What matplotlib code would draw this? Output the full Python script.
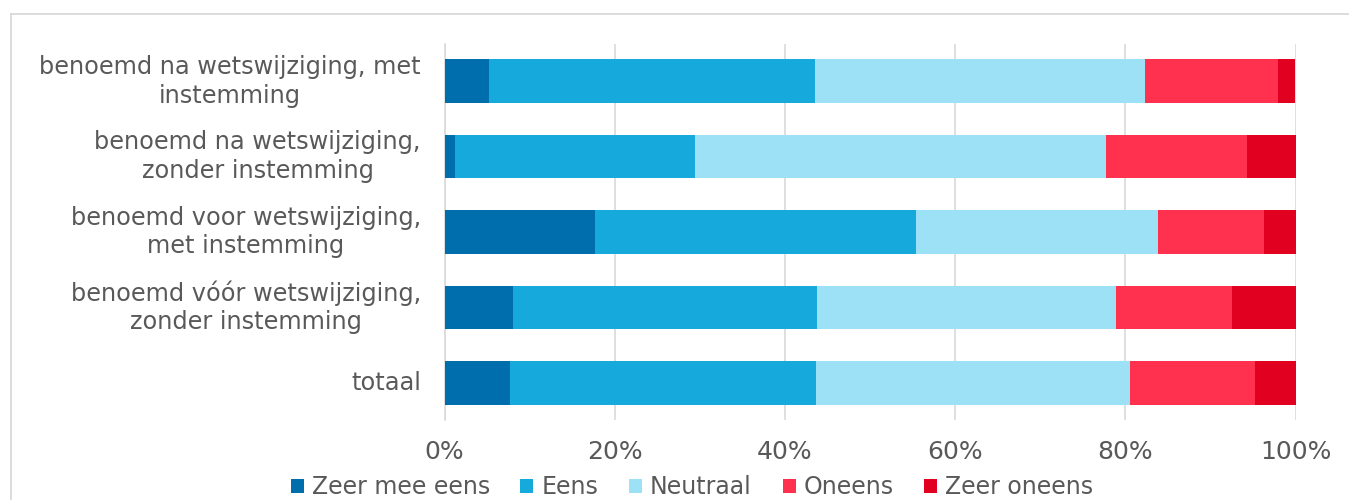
import matplotlib
matplotlib.use("Agg")
import matplotlib.pyplot as plt
import matplotlib.lines as mlines
import numpy as np

# Data (percentages)
categories = [
    "benoemd na wetswijziging, met\ninstemming",
    "benoemd na wetswijziging,\nzonder instemming",
    "benoemd voor wetswijziging,\nmet instemming",
    "benoemd vóór wetswijziging,\nzonder instemming",
    "totaal",
]
series_names = ["Zeer mee eens", "Eens", "Neutraal", "Oneens", "Zeer oneens"]
zeer_mee_eens = [5.2, 1.2, 17.7, 8.0, 7.7]
eens = [38.3, 28.2, 37.7, 35.8, 36.0]
neutraal = [38.8, 48.3, 28.5, 35.1, 36.9]
oneens = [15.6, 16.6, 12.4, 13.6, 14.6]
zeer_oneens = [2.1, 5.7, 3.7, 7.5, 4.8]
tick_values = [0, 20, 40, 60, 80, 100]

colors = ["#006EAC", "#15AADB", "#9DE1F6", "#FF314E", "#E1001F"]
text_color = "#595959"
grid_color = "#D9D9D9"

W, H = 1349, 500
fig = plt.figure(figsize=(W / 100, H / 100), dpi=100)
fig.patch.set_facecolor("white")

# outer chart border, only left and top edges are visible (cropped image)
bx, by = 11 / W, 1 - 13.5 / H
fig.add_artist(mlines.Line2D([bx, bx], [-0.1, by], transform=fig.transFigure,
                             color=grid_color, lw=1.3))
fig.add_artist(mlines.Line2D([bx, 1.1], [by, by], transform=fig.transFigure,
                             color=grid_color, lw=1.3))

ax = fig.add_axes([444.5 / W, 1 - 420.4 / H, 851 / W, (420.4 - 43.6) / H])

y = np.arange(len(categories))
left = np.zeros(len(categories))
all_series = [zeer_mee_eens, eens, neutraal, oneens, zeer_oneens]
for name, vals, col in zip(series_names, all_series, colors):
    vals = np.array(vals)
    ax.barh(y, vals, left=left, height=0.58, color=col, label=name, zorder=3)
    left += vals

ax.set_xlim(0, 100)
ax.set_ylim(len(categories) - 0.5, -0.5)

ax.set_xticks(tick_values)
ax.set_xticklabels([f"{v}%" for v in tick_values])
ax.set_yticks(y)
ax.set_yticklabels(categories, multialignment="center", linespacing=1.25)
for lab in ax.get_yticklabels():
    lab.set_verticalalignment("center")

ax.tick_params(axis="x", length=0, pad=14, labelsize=18, labelcolor=text_color)
ax.tick_params(axis="y", length=0, pad=17, labelsize=17.3, labelcolor=text_color)

ax.xaxis.grid(True, color=grid_color, lw=1.2, zorder=0)
for s in ["top", "right", "bottom"]:
    ax.spines[s].set_visible(False)
ax.spines["left"].set_color(grid_color)
ax.spines["left"].set_linewidth(1.2)

fig.legend(loc="center", bbox_to_anchor=(692 / W, 1 - 487 / H), ncol=5,
           frameon=False, fontsize=17, labelcolor=text_color,
           handlelength=0.55, handleheight=0.55, handletextpad=0.34,
           columnspacing=1.3, borderaxespad=0)

fig.savefig("out.png", dpi=100)
